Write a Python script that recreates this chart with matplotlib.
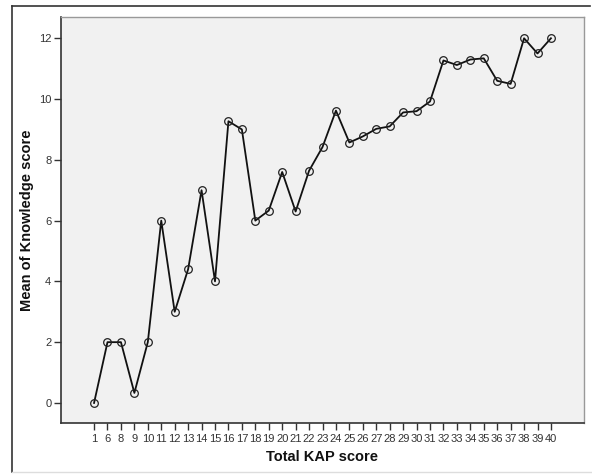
#!/usr/bin/env python3
"""Line chart: mean knowledge score by total KAP score (SPSS style)."""
import matplotlib
matplotlib.use("Agg")
import matplotlib.pyplot as plt
from matplotlib.lines import Line2D

kap_scores = ["1", "6", "8", "9", "10", "11", "12", "13", "14", "15", "16", "17",
              "18", "19", "20", "21", "22", "23", "24", "25", "26", "27", "28", "29",
              "30", "31", "32", "33", "34", "35", "36", "37", "38", "39", "40"]
knowledge_means = [0.0, 2.0, 2.0, 0.33, 2.0, 6.0, 3.0, 4.4, 7.0, 4.0, 9.27, 9.0,
                   6.0, 6.33, 7.6, 6.3, 7.64, 8.42, 9.62, 8.57, 8.77, 9.02, 9.1, 9.56,
                   9.6, 9.92, 11.27, 11.12, 11.3, 11.34, 10.6, 10.5, 12.0, 11.5, 12.0]
y_ticks = [0, 2, 4, 6, 8, 10, 12]

plt.rcParams["font.family"] = ["Liberation Sans", "DejaVu Sans"]

W, H = 592, 474
fig = plt.figure(figsize=(W / 100, H / 100), dpi=100)
fig.patch.set_facecolor("white")

# outer frame (left + top dark, bottom faint)
fig.add_artist(Line2D([12 / W, 12 / W], [1 - 472 / H, 1 - 6 / H],
                      transform=fig.transFigure, color="#333", lw=1.2))
fig.add_artist(Line2D([12 / W, 590 / W], [1 - 6 / H, 1 - 6 / H],
                      transform=fig.transFigure, color="#333", lw=1.2))
fig.add_artist(Line2D([12 / W, 1.0], [1 - 472 / H, 1 - 472 / H],
                      transform=fig.transFigure, color="#ddd", lw=1.0))

ax = fig.add_axes([61 / W, 1 - 423 / H, (584 - 61) / W, (423 - 17) / H])
ax.set_facecolor("#f1f1f1")

x = list(range(len(kap_scores)))
ax.plot(x, knowledge_means, color="#111", lw=1.3, zorder=3,
        marker="o", markersize=5.5, markerfacecolor="none",
        markeredgecolor="#222", markeredgewidth=0.9)

ax.set_xlim(-2.46, len(kap_scores) - 1 + 2.46)
ax.set_ylim(-0.66, 12.7)
ax.set_xticks(x)
ax.set_xticklabels(kap_scores)
ax.set_yticks(y_ticks)

ax.tick_params(axis="both", direction="out", length=5, width=1.0,
               color="#333", labelsize=8, labelcolor="#333", pad=2)
ax.tick_params(axis="x", pad=3)

for side in ["left", "bottom"]:
    ax.spines[side].set_color("#333")
    ax.spines[side].set_linewidth(1.2)
for side in ["top", "right"]:
    ax.spines[side].set_color("#999")
    ax.spines[side].set_linewidth(1.0)

ax.set_xlabel("Total KAP score", fontsize=10.5, fontweight="bold", color="#111")
ax.set_ylabel("Mean of Knowledge score", fontsize=10.5, fontweight="bold",
              color="#111")
ax.xaxis.set_label_coords(0.5, -(457 - 423) / (423 - 17), transform=ax.transAxes)
ax.yaxis.set_label_coords((27 - 61) / (584 - 61), 0.5, transform=ax.transAxes)
ax.xaxis.label.set_va("center")
ax.yaxis.label.set_va("center")

fig.savefig("out.png", dpi=100)
